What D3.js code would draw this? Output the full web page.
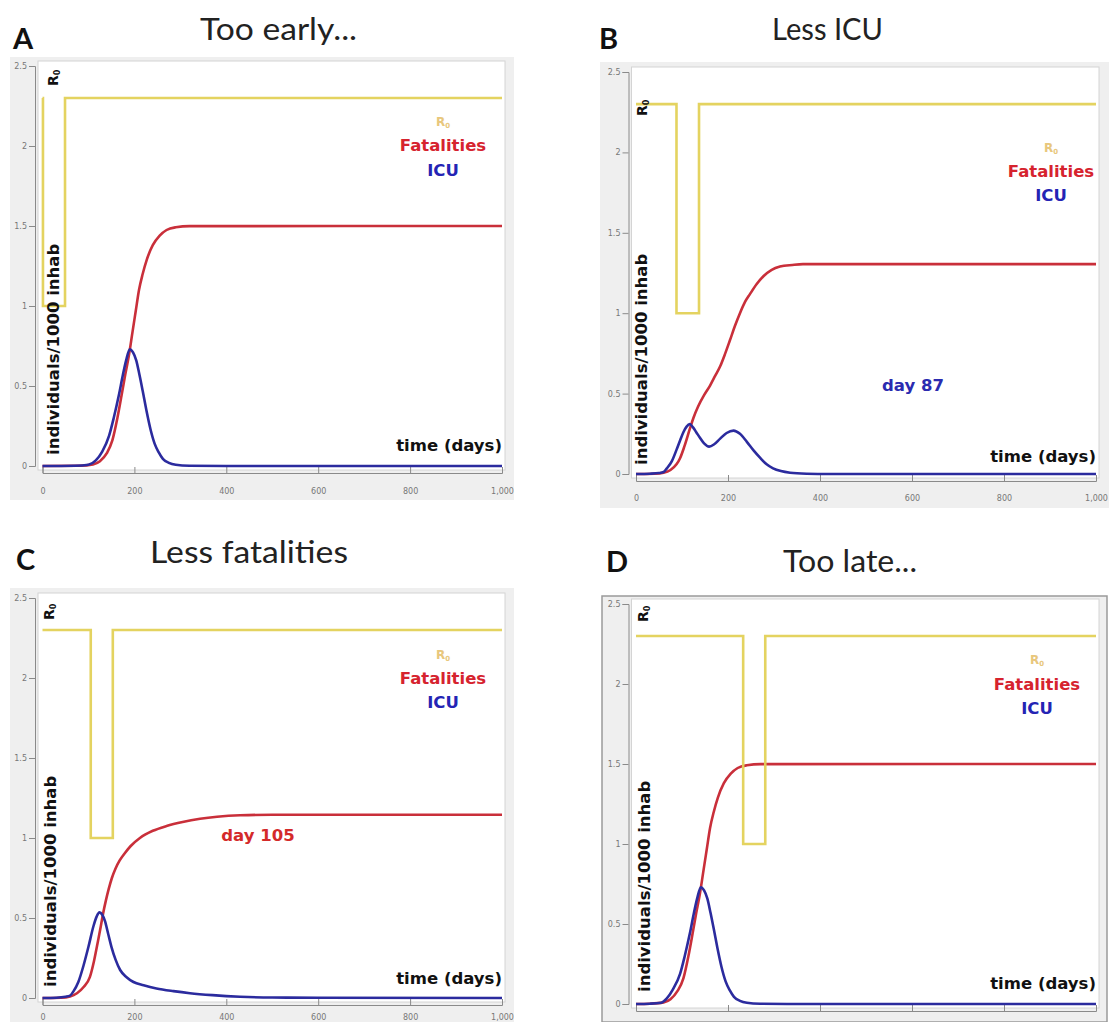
<!DOCTYPE html>
<html><head><meta charset="utf-8">
<script src="https://cdn.jsdelivr.net/npm/d3@7"></script>
<style>body{margin:0;background:#fff}</style>
</head><body><svg id="c" width="1109" height="1022"></svg>
<script>
// ---------------- data ----------------
const panelLetters = ["A", "B", "C", "D"];
const panelTitles = ["Too early...", "Less ICU", "Less fatalities", "Too late..."];
const legendLabels = ["Fatalities", "ICU"];
const xTicks = [0, 200, 400, 600, 800, 1000];
const yTicks = [0, 0.5, 1, 1.5, 2, 2.5];
const xDomain = [0, 1000];
const yDomain = [0, 2.5];

// R0 step profiles [day, R0]
const r0A = [[0,2.3],[1,2.3],[1,1.0],[49,1.0],[49,2.3],[1000,2.3]];
const r0B = [[0,2.3],[88,2.3],[88,1.0],[137,1.0],[137,2.3],[1000,2.3]];
const r0C = [[0,2.3],[105,2.3],[105,1.0],[153,1.0],[153,2.3],[1000,2.3]];
const r0D = [[0,2.3],[233,2.3],[233,1.0],[281,1.0],[281,2.3],[1000,2.3]];

// Fatalities (individuals / 1000 inhab)
const fatA = [[0,0],[80,0.002],[110,0.01],[125,0.03],[140,0.08],[152,0.16],[163,0.3],[172,0.44],[180,0.57],[188,0.69],[196,0.84],[203,0.97],[210,1.1],[218,1.2],[227,1.29],[240,1.38],[255,1.44],[270,1.475],[290,1.492],[320,1.499],[1000,1.5]];
const fatB = [[0,0],[40,0.002],[60,0.008],[75,0.025],[88,0.06],[96,0.1],[105,0.17],[117,0.28],[125,0.35],[135,0.42],[148,0.49],[161,0.55],[172,0.61],[183,0.67],[194,0.75],[204,0.83],[215,0.92],[226,1.0],[237,1.07],[248,1.12],[262,1.18],[277,1.23],[295,1.27],[313,1.29],[340,1.3],[363,1.305],[1000,1.305]];
const fatC = [[0,0],[40,0.002],[60,0.01],[75,0.03],[90,0.07],[103,0.13],[112,0.23],[121,0.36],[127,0.45],[132,0.53],[138,0.61],[144,0.68],[151,0.75],[159,0.81],[168,0.86],[179,0.905],[192,0.95],[212,1.0],[240,1.045],[270,1.075],[305,1.1],[343,1.12],[380,1.133],[430,1.142],[500,1.145],[1000,1.145]];
const fatD = [[0,0],[30,0.002],[60,0.01],[75,0.03],[90,0.08],[103,0.16],[114,0.3],[123,0.44],[131,0.57],[139,0.69],[147,0.84],[154,0.97],[161,1.1],[169,1.2],[178,1.29],[191,1.38],[206,1.44],[221,1.475],[241,1.492],[271,1.499],[1000,1.5]];

// ICU occupancy (individuals / 1000 inhab)
const icuA = [[0,0],[70,0.002],[100,0.008],[116,0.035],[130,0.09],[145,0.19],[155,0.3],[166,0.44],[175,0.57],[182,0.66],[190,0.73],[197,0.71],[204,0.66],[211,0.57],[218,0.47],[226,0.35],[235,0.23],[244,0.14],[253,0.085],[262,0.045],[275,0.02],[290,0.008],[320,0.002],[400,0],[1000,0]];
const icuB = [[0,0],[30,0.002],[50,0.006],[60,0.012],[67,0.035],[78,0.08],[88,0.15],[96,0.21],[103,0.26],[110,0.295],[117,0.31],[124,0.29],[131,0.26],[139,0.225],[148,0.19],[159,0.17],[170,0.185],[183,0.22],[197,0.255],[212,0.27],[226,0.25],[241,0.2],[256,0.145],[270,0.1],[284,0.06],[298,0.035],[315,0.018],[335,0.008],[371,0.002],[420,0],[1000,0]];
const icuC = [[0,0],[30,0.002],[50,0.008],[60,0.015],[67,0.04],[78,0.1],[89,0.2],[100,0.32],[111,0.45],[118,0.51],[124,0.535],[130,0.52],[136,0.48],[143,0.4],[150,0.32],[159,0.24],[169,0.175],[183,0.13],[198,0.1],[220,0.08],[248,0.06],[285,0.043],[321,0.03],[370,0.018],[430,0.008],[500,0.003],[1000,0]];
const icuD = [[0,0],[30,0.002],[55,0.008],[67,0.035],[80,0.09],[96,0.19],[106,0.3],[117,0.44],[126,0.57],[133,0.66],[141,0.73],[148,0.71],[155,0.66],[162,0.57],[169,0.47],[177,0.35],[186,0.23],[195,0.14],[204,0.085],[213,0.045],[226,0.02],[241,0.008],[270,0.002],[350,0],[1000,0]];

const annotations = [null, {text:"day 87", color:"#2b2bb0"}, {text:"day 105", color:"#d42a2a"}, null];

// ---------------- layout ----------------
const layout = [
  {x0:42.5, x1:502, y0:466, y1:66, bg:[10,57,514,500], border:false, xlab:15, showX:true,
   leg:{cx:443, y:[126,151,176]}, time:{x:502,y:451}, ylab:{x:59,y:455}, r0lab:{x:58,y:86},
   title:{lx:13,ly:49,tx:200,ty:40,w:157}, ann:null},
  {x0:636, x1:1096, y0:474, y1:72, bg:[600,62,1109,508], border:false, xlab:14, showX:true,
   leg:{cx:1051, y:[152,177,201]}, time:{x:1096,y:462}, ylab:{x:647,y:465}, r0lab:{x:647,y:116},
   title:{lx:599,ly:49,tx:772,ty:40,w:111}, ann:{x:913,y:391}},
  {x0:42.5, x1:502, y0:998, y1:598, bg:[10,588,514,1022], border:false, xlab:9, showX:true,
   leg:{cx:443, y:[659,684,708]}, time:{x:502,y:984}, ylab:{x:56,y:987}, r0lab:{x:54,y:620},
   title:{lx:16,ly:570,tx:150,ty:563,w:198}, ann:{x:258,y:841}},
  {x0:636, x1:1096, y0:1004, y1:604, bg:[602,596,1107,1022], border:true, xlab:14, showX:false,
   leg:{cx:1037, y:[664,690,714]}, time:{x:1096,y:989}, ylab:{x:650,y:992}, r0lab:{x:648,y:622},
   title:{lx:606,ly:572,tx:783,ty:572,w:134}, ann:null}
];

const r0s = [r0A, r0B, r0C, r0D];
const fats = [fatA, fatB, fatC, fatD];
const icus = [icuA, icuB, icuC, icuD];

const COL_R0 = "#e3d157", COL_F = "#c92f3a", COL_I = "#2b2b9e";
const BOLD = "'DejaVu Sans', Verdana, sans-serif";
const TITLE = "Lato, 'Open Sans', sans-serif";

const svg = d3.select("#c");
svg.append("rect").attr("width",1109).attr("height",1022).attr("fill","#fff");

layout.forEach((L, i) => {
  const g = svg.append("g");
  const x = d3.scaleLinear().domain(xDomain).range([L.x0, L.x1]);
  const y = d3.scaleLinear().domain(yDomain).range([L.y0, L.y1]);

  // gray screenshot background
  g.append("rect").attr("x",L.bg[0]).attr("y",L.bg[1])
    .attr("width",L.bg[2]-L.bg[0]).attr("height",L.bg[3]-L.bg[1])
    .attr("fill","#efefef")
    .attr("stroke", L.border ? "#9a9a9a" : "none").attr("stroke-width",1.5);
  // white plot area
  g.append("rect").attr("x",L.x0-4.5).attr("y",L.y1-5)
    .attr("width",(L.x1+3)-(L.x0-4.5)).attr("height",(L.y0+4)-(L.y1-5))
    .attr("fill","#fff").attr("stroke","#d4d4d4").attr("stroke-width",1);

  // y axis
  const yAxG = g.append("g").attr("transform",`translate(${L.x0-7.5},0)`);
  yAxG.call(d3.axisLeft(y).tickValues(d3.range(0,2.501,0.1)).tickSize(3).tickFormat(""));
  yAxG.call(d3.axisLeft(y).tickValues(yTicks).tickSize(6).tickFormat(d3.format("~g")));
  yAxG.selectAll("path,line").attr("stroke","#8a8a8a");
  yAxG.selectAll("text").attr("font-size",8).attr("fill","#777").attr("font-family","DejaVu Sans").attr("x",-8);

  // x axis (ticks pointing up)
  const xAxG = g.append("g").attr("transform",`translate(0,${L.y0+7})`);
  xAxG.call(d3.axisBottom(x).tickValues(d3.range(0,1001,50)).tickSize(-3).tickFormat(""));
  xAxG.call(d3.axisBottom(x).tickValues(xTicks).tickSize(-6)
    .tickFormat(L.showX ? d3.format(",") : () => ""));
  xAxG.selectAll("path,line").attr("stroke","#8a8a8a");
  xAxG.selectAll("text").attr("font-size",8).attr("fill","#777").attr("font-family","DejaVu Sans").attr("y",L.xlab);

  // curves
  const smooth = d3.line().x(d=>x(d[0])).y(d=>y(d[1])).curve(d3.curveMonotoneX);
  const step = d3.line().x(d=>x(d[0])).y(d=>y(d[1]));
  g.append("path").attr("d",smooth(fats[i])).attr("fill","none").attr("stroke",COL_F).attr("stroke-width",2.6);
  g.append("path").attr("d",smooth(icus[i])).attr("fill","none").attr("stroke",COL_I).attr("stroke-width",2.6);
  g.append("path").attr("d",step(r0s[i])).attr("fill","none").attr("stroke",COL_R0).attr("stroke-width",2.6).attr("opacity",0.95);

  // legend
  const lg = g.append("g").attr("font-family",BOLD).attr("font-weight","bold").attr("text-anchor","middle");
  const r0t = lg.append("text").attr("x",L.leg.cx).attr("y",L.leg.y[0]).attr("fill","#e8c77c").attr("font-size",12);
  r0t.append("tspan").text("R");
  r0t.append("tspan").attr("font-size",7).attr("dy",2).text("0");
  lg.append("text").attr("x",L.leg.cx).attr("y",L.leg.y[1]).attr("fill","#d6232e").attr("font-size",16.5).text(legendLabels[0]);
  lg.append("text").attr("x",L.leg.cx).attr("y",L.leg.y[2]).attr("fill","#2424b4").attr("font-size",16.5).text(legendLabels[1]);

  // axis names
  g.append("text").attr("x",L.time.x).attr("y",L.time.y).attr("text-anchor","end")
    .attr("font-family",BOLD).attr("font-weight","bold").attr("font-size",16.5).attr("fill","#111").text("time (days)");
  g.append("text").attr("transform",`translate(${L.ylab.x},${L.ylab.y}) rotate(-90)`)
    .attr("font-family",BOLD).attr("font-weight","bold").attr("font-size",16.5).attr("fill","#111").text("individuals/1000 inhab");
  const rr = g.append("text").attr("transform",`translate(${L.r0lab.x},${L.r0lab.y}) rotate(-90)`)
    .attr("font-family",BOLD).attr("font-weight","bold").attr("font-size",14).attr("fill","#111");
  rr.append("tspan").text("R");
  rr.append("tspan").attr("font-size",8).attr("dy",2).text("0");

  // annotation
  if (annotations[i] && L.ann) {
    g.append("text").attr("x",L.ann.x).attr("y",L.ann.y).attr("text-anchor","middle")
      .attr("font-family",BOLD).attr("font-weight","bold").attr("font-size",16.5)
      .attr("fill",annotations[i].color).text(annotations[i].text);
  }

  // titles
  g.append("text").attr("x",L.title.lx).attr("y",L.title.ly)
    .attr("font-family",TITLE).attr("font-weight","bold").attr("font-size",29).attr("fill","#111").text(panelLetters[i]);
  g.append("text").attr("x",L.title.tx).attr("y",L.title.ty)
    .attr("font-family",TITLE).attr("font-size",30).attr("fill","#222")
    .attr("textLength",L.title.w).attr("lengthAdjust","spacingAndGlyphs").text(panelTitles[i]);
});
</script>
</body></html>
